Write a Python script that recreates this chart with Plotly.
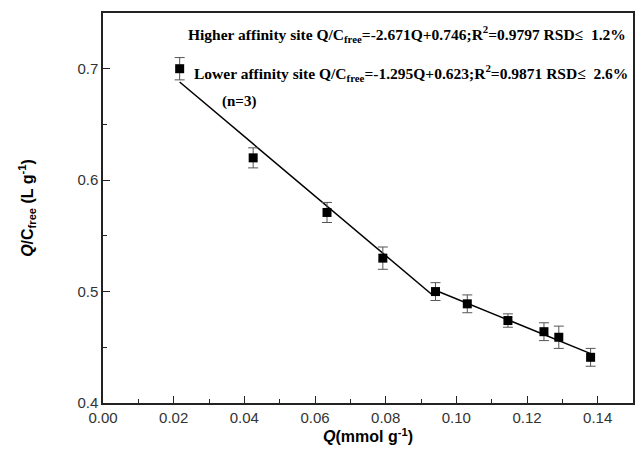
import plotly.graph_objects as go

# Data
Q = [0.0217, 0.0425, 0.0634, 0.0792, 0.0941, 0.1031, 0.1146, 0.1248, 0.1290, 0.1380]
QC = [0.700, 0.620, 0.571, 0.530, 0.500, 0.489, 0.474, 0.464, 0.459, 0.441]
ERR = [0.010, 0.009, 0.009, 0.010, 0.008, 0.008, 0.006, 0.008, 0.010, 0.008]

# Fit lines (coefficients from the chart text) and their Q extents
high_fit = (-2.671, 0.746)
high_Q = [0.0217, 0.0930]
low_fit = (-1.295, 0.623)
low_Q = [0.0930, 0.1380]

x_ticks = [0.00, 0.02, 0.04, 0.06, 0.08, 0.10, 0.12, 0.14]
y_ticks = [0.4, 0.5, 0.6, 0.7]

fig = go.Figure()

fig.add_trace(go.Scatter(
    x=high_Q, y=[high_fit[0] * q + high_fit[1] for q in high_Q],
    mode="lines", line=dict(color="black", width=1.5), showlegend=False))
fig.add_trace(go.Scatter(
    x=low_Q, y=[low_fit[0] * q + low_fit[1] for q in low_Q],
    mode="lines", line=dict(color="black", width=1.5), showlegend=False))

fig.add_trace(go.Scatter(
    x=Q, y=QC, mode="markers",
    marker=dict(symbol="square", size=9, color="black"),
    error_y=dict(type="data", array=ERR, visible=True, color="#555555", thickness=1, width=5),
    showlegend=False))

serif = "Liberation Serif"
fig.add_annotation(
    x=0.0236, y=0.7316, xref="x", yref="y", xanchor="left", yanchor="middle",
    text="<b>Higher affinity site Q/C<sub>free</sub>=-2.671Q+0.746;R<sup>2</sup>=0.9797 RSD\u2264  1.2%</b>",
    showarrow=False, font=dict(family=serif, size=15.5, color="black"))
fig.add_annotation(
    x=0.0252, y=0.6958, xref="x", yref="y", xanchor="left", yanchor="middle",
    text="<b>Lower affinity site Q/C<sub>free</sub>=-1.295Q+0.623;R<sup>2</sup>=0.9871 RSD\u2264  2.6%</b>",
    showarrow=False, font=dict(family=serif, size=15.5, color="black"))
fig.add_annotation(
    x=0.0386, y=0.6707, xref="x", yref="y", xanchor="center", yanchor="middle",
    text="<b>(n=3)</b>", showarrow=False, font=dict(family=serif, size=15, color="black"))

axis_common = dict(
    showline=True, linecolor="#222222", linewidth=1.5, mirror=True,
    ticks="inside", ticklen=7, tickwidth=1.2, tickcolor="#222222",
    showgrid=False, zeroline=False,
    tickfont=dict(family="Liberation Sans", size=15, color="#333333"),
)

fig.update_xaxes(
    range=[0, 0.15], tickvals=x_ticks, ticktext=[f"{v:.2f}" for v in x_ticks],
    minor=dict(ticks="inside", ticklen=4, dtick=0.01, tick0=0, tickcolor="#222222", tickwidth=1.2),
    title=dict(text="<i>Q</i>(mmol g<sup>-1</sup>)", standoff=6,
               font=dict(family="Liberation Sans", size=16, color="black", weight="bold")),
    **axis_common)
fig.update_yaxes(
    range=[0.4, 0.75], tickvals=y_ticks, ticktext=[f"{v:.1f}" for v in y_ticks],
    minor=dict(ticks="inside", ticklen=4, dtick=0.05, tick0=0.4, tickcolor="#222222", tickwidth=1.2),
    title=dict(text="<i>Q</i>/C<sub>free</sub> (L g<sup>-1</sup>)", standoff=40,
               font=dict(family="Liberation Sans", size=16, color="black", weight="bold")),
    **axis_common)

fig.update_layout(
    width=636, height=451,
    margin=dict(l=103, r=1, t=13, b=48),
    paper_bgcolor="white", plot_bgcolor="white",
)

fig.write_html("out.html")
